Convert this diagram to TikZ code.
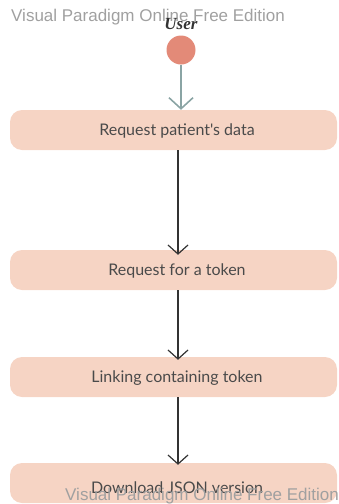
\documentclass[tikz,border=0pt]{standalone}
\usepackage{fontspec}
\setmainfont{Liberation Sans}
\newfontfamily\boxfont{Lato}
\newfontfamily\userfont{Liberation Serif}
\usetikzlibrary{arrows.meta}
\definecolor{peach}{HTML}{F6D4C4}
\definecolor{salmon}{HTML}{E38A78}
\definecolor{teal}{HTML}{8AA4A4}
\definecolor{wm}{HTML}{A0A0A0}
\definecolor{txt}{HTML}{4A4A4A}
\tikzset{
  actbox/.style={rectangle, rounded corners=12pt, fill=peach, minimum width=327pt, minimum height=40pt, inner sep=0pt},
  acttext/.style={font=\boxfont\fontsize{16}{18}\selectfont, text=txt, inner sep=0pt},
  flow/.style={draw=black!80, line width=1.2pt, -{Straight Barb[length=9pt,width=20pt,line width=1.2pt]}},
  wmark/.style={font=\fontsize{17}{19}\selectfont, text=wm, inner sep=0pt}
}
\begin{document}
\begin{tikzpicture}[x=1pt,y=1pt]
\useasboundingbox (0,0) rectangle (338,-504);
\node[wmark, anchor=west] (wm1) at (11,-17) {Visual Paradigm Online Free Edition};
\node[font=\userfont\bfseries\itshape\fontsize{17}{19}\selectfont, text=black!80, inner sep=0pt] (user) at (181,-24) {User};
\node[circle, fill=salmon, minimum size=29pt, inner sep=0pt] (start) at (181,-50) {};
\node[actbox] (a1) at (173.5,-130) {};
\node[acttext] (t1) at (177,-131) {Request patient's data};
\node[actbox] (a2) at (173.5,-270) {};
\node[acttext] (t2) at (177,-271) {Request for a token};
\node[actbox] (a3) at (173.5,-377) {};
\node[acttext] (t3) at (177,-378) {Linking containing token};
\node[actbox] (a4) at (173.5,-483) {};
\node[acttext] (t4) at (177,-488) {Download JSON version};
\node[wmark, anchor=west] (wm2) at (65,-496) {Visual Paradigm Online Free Edition};
\draw[flow, draw=teal, line width=1.6pt, -{Straight Barb[length=11pt,width=24pt,line width=1.6pt]}] (start.south) -- (start.south |- a1.north);
\draw[flow] (a1.south -| 178,0) -- ([yshift=-5pt]a2.north -| 178,0);
\draw[flow] (a2.south -| 178,0) -- ([yshift=-3pt]a3.north -| 178,0);
\draw[flow] (a3.south -| 178,0) -- ([yshift=-2pt]a4.north -| 178,0);
\end{tikzpicture}
\end{document}
